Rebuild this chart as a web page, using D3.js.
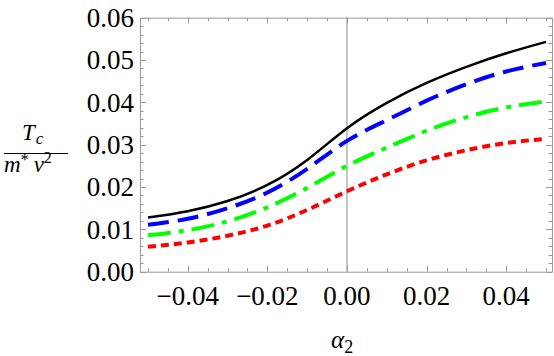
<!DOCTYPE html>
<html>
<head>
<meta charset="utf-8">
<script src="https://cdn.jsdelivr.net/npm/d3@7"></script>
<style>
  svg text, svg tspan { font-family: "Liberation Serif", "Times New Roman", serif !important; }
</style>
</head>
<body style="margin:0">
<div id="chart"></div>
<script>
// data
var alpha = [-0.05, -0.04, -0.03, -0.02, -0.01, 0, 0.01, 0.02, 0.03, 0.04, 0.05];
var tcBlack = [0.0128, 0.0143, 0.0167, 0.0205, 0.0264, 0.0339, 0.0399, 0.0446, 0.0484, 0.0516, 0.0543];
var tcBlue  = [0.0111, 0.0125, 0.0150, 0.0187, 0.0243, 0.0309, 0.0358, 0.0404, 0.0443, 0.0473, 0.0493];
var tcGreen = [0.0086, 0.0098, 0.0119, 0.0152, 0.0198, 0.0250, 0.0293, 0.0333, 0.0365, 0.0388, 0.0402];
var tcRed   = [0.0059, 0.0069, 0.0085, 0.0109, 0.0146, 0.0190, 0.0230, 0.0263, 0.0287, 0.0304, 0.0314];

var xMajor = [-0.04, -0.02, 0, 0.02, 0.04];
var yMajor = [0, 0.01, 0.02, 0.03, 0.04, 0.05, 0.06];

var width = 554, height = 356;
var serif = '"Liberation Serif", serif';

var svg = d3.select("#chart").append("svg")
    .attr("width", width)
    .attr("height", height)
    .style("font-family", serif);

/* ****** scales ****** */
var x = d3.scaleLinear().domain([-0.052, 0.0515]).range([140, 552]);
var y = d3.scaleLinear().domain([0, 0.06]).range([271.7, 17.7]);

var x0 = x.range()[0], x1 = x.range()[1];
var y0 = y.range()[0], y1 = y.range()[1];

// vertical axis line at alpha = 0
svg.append("line")
    .attr("x1", x(0)).attr("x2", x(0))
    .attr("y1", y1).attr("y2", y0)
    .attr("stroke", "#8c8c8c")
    .attr("stroke-width", 1);

/* ****** ticks ****** */
var fmt = function (v) {
    var s = Math.abs(v).toFixed(2);
    return v < -1e-9 ? "\u2212" + s : s;
};
var xMinor = d3.range(-10, 11).map(function (i) { return i * 0.005; })
    .filter(function (v) { return !xMajor.some(function (m) { return Math.abs(m - v) < 1e-9; }); });
var yMinor = d3.range(0, 31).map(function (i) { return i * 0.002; })
    .filter(function (v) { return !yMajor.some(function (m) { return Math.abs(m - v) < 1e-9; }); });

var ticks = svg.append("g").attr("stroke", "#999").attr("stroke-width", 1);

function xTicks(vals, len) {
    vals.forEach(function (v) {
        var px = Math.round(x(v)) + 0.5;
        ticks.append("line").attr("x1", px).attr("x2", px).attr("y1", y0).attr("y2", y0 - len);
        ticks.append("line").attr("x1", px).attr("x2", px).attr("y1", y1).attr("y2", y1 + len);
    });
}
function yTicks(vals, len) {
    vals.forEach(function (v) {
        var py = Math.round(y(v)) + 0.5;
        ticks.append("line").attr("y1", py).attr("y2", py).attr("x1", x0).attr("x2", x0 + len);
        ticks.append("line").attr("y1", py).attr("y2", py).attr("x1", x1).attr("x2", x1 - len);
    });
}
xTicks(xMajor, 6);
xTicks(xMinor, 3.5);
yTicks(yMajor, 6);
yTicks(yMinor, 3.5);

// frame
svg.append("rect")
    .attr("x", x0 + 0.5).attr("y", y1 + 0.5)
    .attr("width", x1 - x0).attr("height", y0 - y1)
    .attr("fill", "none")
    .attr("stroke", "#999")
    .attr("stroke-width", 1);

// tick labels
svg.append("g").selectAll("text").data(xMajor).enter().append("text")
    .attr("x", function (d) { return x(d); })
    .attr("y", 305)
    .attr("text-anchor", "middle")
    .style("font-family", serif)
    .style("font-size", "27px")
    .text(fmt);

svg.append("g").selectAll("text").data(yMajor).enter().append("text")
    .attr("x", 134)
    .attr("y", function (d) { return y(d); })
    .attr("dy", "0.34em")
    .attr("text-anchor", "end")
    .style("font-family", serif)
    .style("font-size", "27px")
    .text(fmt);

/* ****** curves ****** */
var series = [
    { vals: tcRed,   color: "#ff0000", w: 4,   dash: "8,5" },
    { vals: tcGreen, color: "#00ff00", w: 4,   dash: "23,8,5,8" },
    { vals: tcBlue,  color: "#0000ff", w: 4,   dash: "21,9" },
    { vals: tcBlack, color: "#000000", w: 2.5, dash: null }
];

var line = d3.line()
    .x(function (d) { return x(d[0]); })
    .y(function (d) { return y(d[1]); })
    .curve(d3.curveNatural);

svg.append("g").selectAll("path").data(series).enter().append("path")
    .attr("d", function (s) { return line(d3.zip(alpha, s.vals)); })
    .attr("fill", "none")
    .attr("stroke", function (s) { return s.color; })
    .attr("stroke-width", function (s) { return s.w; })
    .attr("stroke-dasharray", function (s) { return s.dash; });

/* ****** axis labels ****** */
var xl = svg.append("text")
    .attr("x", 331)
    .attr("y", 348)
    .style("font-family", serif)
    .style("font-size", "25px")
    .style("font-style", "italic");
xl.append("tspan").text("\u03b1");
xl.append("tspan").attr("dy", 5).style("font-size", "18px").style("font-style", "normal").text("2");

// T_c over m* v^2
var num = svg.append("text")
    .attr("x", 22).attr("y", 140)
    .style("font-family", serif)
    .style("font-size", "23px")
    .style("font-style", "italic");
num.append("tspan").text("T");
num.append("tspan").attr("dy", 4).attr("dx", 1).style("font-size", "17px").text("c");

svg.append("line")
    .attr("x1", 4).attr("x2", 68)
    .attr("y1", 153.5).attr("y2", 153.5)
    .attr("stroke", "#000").attr("stroke-width", 1.2);

var den = svg.append("text")
    .attr("x", 4).attr("y", 172)
    .style("font-family", serif)
    .style("font-size", "23px");
den.append("tspan").style("font-style", "italic").text("m");
den.append("tspan").attr("dy", -7).style("font-size", "16px").text("*");
den.append("tspan").attr("dy", 7).attr("dx", 5).style("font-style", "italic").text("v");
den.append("tspan").attr("dy", -9).style("font-size", "16px").text("2");
</script>
</body>
</html>
